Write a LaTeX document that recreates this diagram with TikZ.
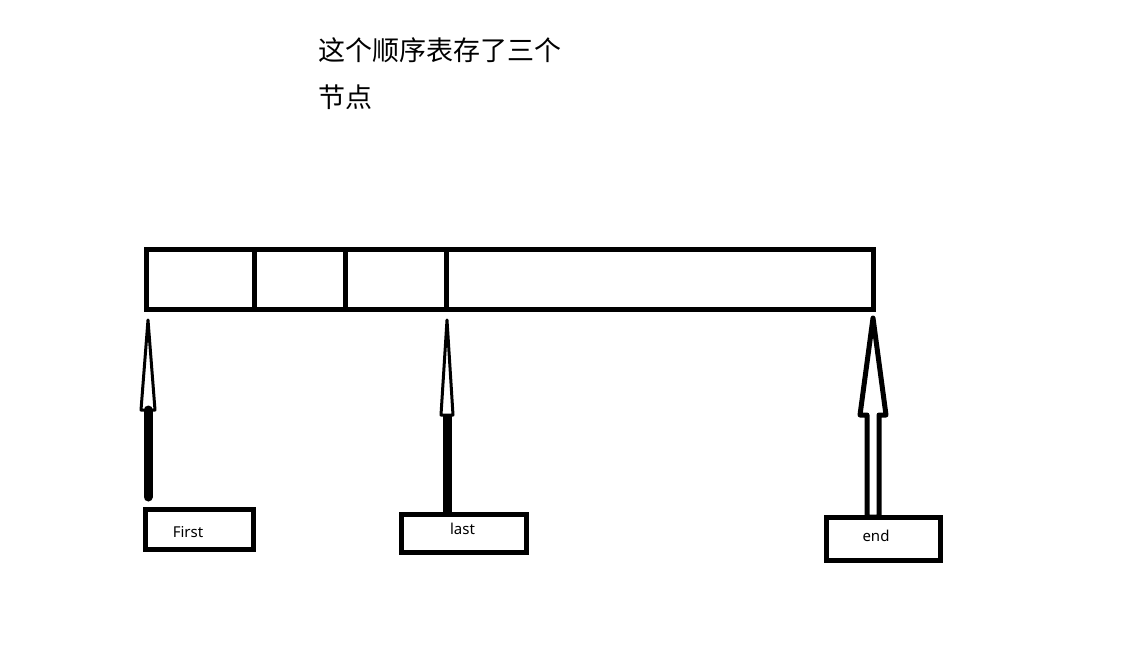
\documentclass[tikz,border=0pt]{standalone}
\usepackage{fontspec}
\setmainfont{Noto Sans}
\newfontfamily\cjk{Noto Sans CJK SC}
\usetikzlibrary{positioning,calc}
\tikzset{
	cell/.style={draw, line width=5pt, minimum height=60pt, inner sep=0pt, outer sep=0pt},
	tagbox/.style={draw, line width=5pt, inner sep=0pt, outer sep=0pt},
	tagtext/.style={font=\fontsize{15}{18}\selectfont},
	headline/.style={line width=3pt, line join=round},
	shaft/.style={line width=9pt, line cap=round},
}
\begin{document}
\begin{tikzpicture}[x=1pt,y=-1pt]
	\useasboundingbox[fill=white] (0,0) rectangle (1127,657);
	% title
	\node[anchor=north west, align=left, inner sep=0pt, font=\cjk\fontsize{27}{47}\selectfont] (title) at (318,37) {这个顺序表存了三个\\节点};
	% the array
	\node[cell, minimum width=108pt, anchor=north west] (c1) at (146,249) {};
	\node[cell, minimum width=91pt, right=0pt of c1] (c2) {};
	\node[cell, minimum width=101pt, right=0pt of c2] (c3) {};
	\node[cell, minimum width=427pt, right=0pt of c3] (c4) {};
	% pointer boxes
	\node[tagbox, minimum width=108pt, minimum height=40pt] (firsttag) at (199,529) {};
	\node[tagbox, minimum width=125pt, minimum height=38pt] (lasttag) at (463.5,533) {};
	\node[tagbox, minimum width=114pt, minimum height=43pt] (endtag) at (883,538.5) {};
	\node[tagtext] (firsttext) at ($(firsttag)+(-11,3)$) {First};
	\node[tagtext] (lasttext) at ($(lasttag)+(-1,-4)$) {last};
	\node[tagtext] (endtext) at ($(endtag)+(-7,-2.5)$) {end};
	% arrows
	\coordinate (tipF) at ($(c1.south west)+(2,11)$);
	\coordinate (tipL) at ($(c3.south east)+(1,11)$);
	\coordinate (tipE) at ($(c4.south east)+(0,9)$);
	\draw[headline] (tipF) -- ++(-7,90) -- ++(14,0) -- cycle;
	\draw[shaft] ($(tipF)+(0,90)$) -- ($(tipF |- firsttag.north)+(0,-12)$);
	\draw[headline] (tipL) -- ++(-6,95) -- ++(12,0) -- cycle;
	\draw[shaft, line cap=butt] ($(tipL)+(0,95)$) -- (tipL |- lasttag.north);
	\draw[line width=5pt, line join=round] (tipE) -- ++(13,97) -- ++(-7,0)
		-- ($(tipE |- endtag.north)+(6,0)$) -- ($(tipE |- endtag.north)+(-6,0)$)
		-- ($(tipE)+(-6,97)$) -- ($(tipE)+(-13,97)$) -- cycle;
\end{tikzpicture}
\end{document}
